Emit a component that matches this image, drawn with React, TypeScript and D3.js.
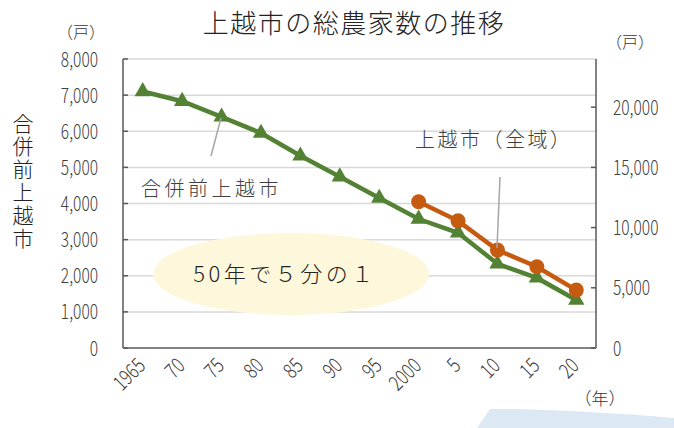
import React, { useEffect, useRef } from "react";
import * as d3 from "d3";

const years = ["1965", "70", "75", "80", "85", "90", "95", "2000", "5", "10", "15", "20"];
const preMerger = [7100, 6830, 6400, 5950, 5320, 4740, 4150, 3570, 3190, 2330, 1940, 1330];
const wholeYears = ["2000", "5", "10", "15", "20"];
const wholeCity = [12140, 10560, 8130, 6750, 4810];
const leftTicks = [0, 1000, 2000, 3000, 4000, 5000, 6000, 7000, 8000];
const rightTicks = [0, 5000, 10000, 15000, 20000];
const yTitle = "合併前上越市";

const FONT = "'Noto Sans CJK JP', 'Noto Sans', sans-serif";

const App = () => {
  const svgRef = useRef<SVGSVGElement>(null);

  useEffect(() => {
    const svg = d3.select(svgRef.current);
    svg.selectAll("*").remove();

    const margin = { top: 59, left: 123, right: 78, bottom: 80 };
    const W = 674, H = 428;
    const x0 = margin.left, x1 = W - margin.right;
    const yTop = margin.top, yBot = H - margin.bottom;

    const x = d3.scaleBand().domain(years).range([x0, x1]);
    const yL = d3.scaleLinear().domain([0, 8000]).range([yBot, yTop]);
    const yR = d3.scaleLinear().domain([0, 24000]).range([yBot, yTop]);
    const cx = (d) => x(d) + x.bandwidth() / 2;

    // blue decoration bottom right
    svg.append("path")
      .attr("d", "M477,428 L490,409 C540,409 600,412 674,418 L674,428 Z")
      .attr("fill", "#dde8f5");

    // grid
    svg.append("g").selectAll("line").data(leftTicks.slice(1)).join("line")
      .attr("x1", x0).attr("x2", x1)
      .attr("y1", (d) => yL(d)).attr("y2", (d) => yL(d))
      .attr("stroke", "#d9d9d9").attr("stroke-width", 1.5);

    // note blob
    svg.append("ellipse")
      .attr("cx", 291).attr("cy", 274).attr("rx", 138).attr("ry", 41)
      .attr("fill", "#fdf8dc");
    svg.append("text").attr("x", 285).attr("y", 282)
      .attr("text-anchor", "middle").attr("font-size", 22).attr("letter-spacing", 3.5)
      .attr("fill", "#222").text("50年で５分の１");

    // axes
    const ax = svg.append("g").attr("stroke", "#595959").attr("stroke-width", 1.5);
    ax.append("line").attr("x1", x0).attr("x2", x0).attr("y1", yTop).attr("y2", yBot);
    ax.append("line").attr("x1", x1).attr("x2", x1).attr("y1", yTop).attr("y2", yBot);
    ax.append("line").attr("x1", x0).attr("x2", x1).attr("y1", yBot).attr("y2", yBot);
    ax.selectAll(".tl").data(leftTicks).join("line").attr("class", "tl")
      .attr("x1", x0).attr("x2", x0 + 5).attr("y1", (d) => yL(d)).attr("y2", (d) => yL(d));
    ax.selectAll(".tr").data(rightTicks).join("line").attr("class", "tr")
      .attr("x1", x1 - 5).attr("x2", x1).attr("y1", (d) => yR(d)).attr("y2", (d) => yR(d));

    const fmt = d3.format(",");
    svg.append("g").selectAll("text").data(leftTicks).join("text")
      .attr("transform", (d) => `translate(98,${yL(d) + 7.5}) scale(0.74,1)`)
      .attr("text-anchor", "end").attr("font-size", 21).attr("fill", "#404040")
      .text((d) => fmt(d));
    svg.append("g").selectAll("text").data(rightTicks).join("text")
      .attr("transform", (d) => `translate(613,${yR(d) + 7.5}) scale(0.74,1)`)
      .attr("font-size", 21).attr("fill", "#404040")
      .text((d) => fmt(d));

    svg.append("g").selectAll("text").data(years).join("text")
      .attr("transform", (d) => `translate(${cx(d) + 4},${yBot + 19}) rotate(-45) scale(0.78,1)`)
      .attr("text-anchor", "end").attr("font-size", 21).attr("fill", "#404040")
      .text((d) => d);

    // lines
    const lineL = d3.line().x((d, i) => cx(years[i])).y((d) => yL(d));
    svg.append("path").datum(preMerger).attr("d", lineL)
      .attr("fill", "none").attr("stroke", "#548235").attr("stroke-width", 4.5);
    const tri = d3.symbol().type(d3.symbolTriangle).size(115);
    svg.append("g").selectAll("path").data(preMerger).join("path")
      .attr("d", tri)
      .attr("transform", (d, i) => `translate(${cx(years[i])},${yL(d)})`)
      .attr("fill", "#548235");

    const lineR = d3.line().x((d, i) => cx(wholeYears[i])).y((d) => yR(d));
    svg.append("path").datum(wholeCity).attr("d", lineR)
      .attr("fill", "none").attr("stroke", "#c55a11").attr("stroke-width", 4.5);
    svg.append("g").selectAll("circle").data(wholeCity).join("circle")
      .attr("cx", (d, i) => cx(wholeYears[i])).attr("cy", (d) => yR(d))
      .attr("r", 7.5).attr("fill", "#c55a11");

    // annotation leaders
    svg.append("line").attr("x1", 221).attr("y1", 118).attr("x2", 211).attr("y2", 156)
      .attr("stroke", "#a6a6a6").attr("stroke-width", 1.5);
    svg.append("line").attr("x1", 500).attr("y1", 177).attr("x2", 497).attr("y2", 248)
      .attr("stroke", "#a6a6a6").attr("stroke-width", 1.5);
    svg.append("text").attr("x", 141).attr("y", 196).attr("font-size", 20)
      .attr("letter-spacing", 3.5).attr("fill", "#404040")
      .text("合併前上越市");
    svg.append("text").attr("x", 415).attr("y", 147).attr("font-size", 20)
      .attr("letter-spacing", 2.5).attr("fill", "#404040")
      .text("上越市（全域）");

    // titles
    svg.append("text").attr("x", 354).attr("y", 33).attr("text-anchor", "middle")
      .attr("font-size", 26).attr("letter-spacing", 1.5).attr("fill", "#222")
      .text("上越市の総農家数の推移");
    svg.append("text").attr("x", 81).attr("y", 38).attr("text-anchor", "middle")
      .attr("font-size", 16).attr("fill", "#333").text("（戸）");
    svg.append("text").attr("x", 630).attr("y", 48).attr("text-anchor", "middle")
      .attr("font-size", 16).attr("fill", "#333").text("（戸）");
    svg.append("text").attr("x", 600).attr("y", 405).attr("text-anchor", "middle")
      .attr("font-size", 17).attr("fill", "#333").text("（年）");
    svg.append("text").attr("x", 23).attr("y", 182)
      .attr("text-anchor", "middle").attr("font-size", 21).attr("letter-spacing", 2)
      .attr("fill", "#222").style("writing-mode", "vertical-rl")
      .text(yTitle);
  }, []);

  return (
    <svg ref={svgRef} width={674} height={428}
      style={{ position: "absolute", left: 0, top: 0, fontFamily: FONT, fontWeight: 300, background: "#fff" }} />
  );
};

export default App;
